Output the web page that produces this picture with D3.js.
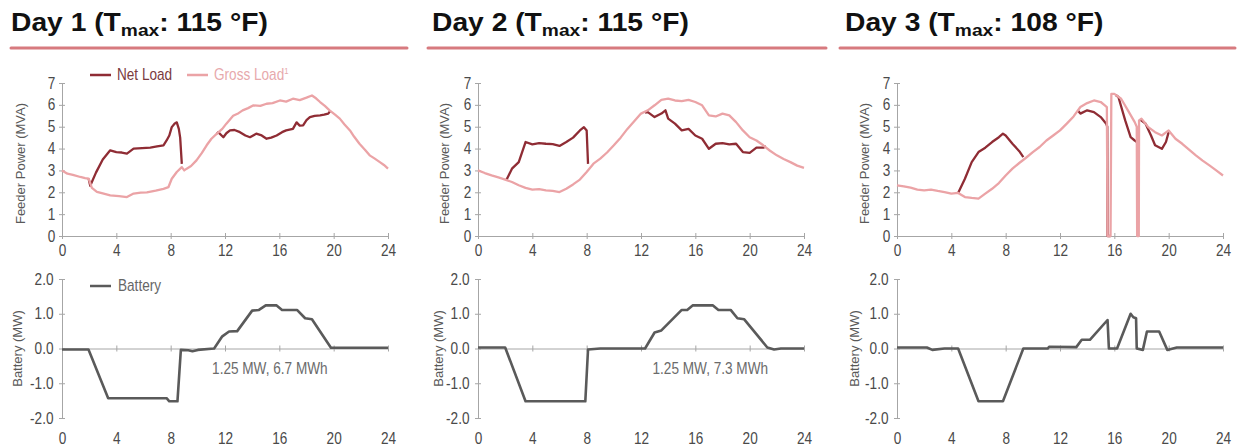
<!DOCTYPE html>
<html>
<head>
<meta charset="utf-8">
<script src="https://cdn.jsdelivr.net/npm/d3@7"></script>
<style>
  html, body { margin: 0; padding: 0; background: #fff; }
  svg { display: block; }
  text { font-family: 'Liberation Sans', Arial, sans-serif; }
</style>
</head>
<body>
<svg id="chart" width="1238" height="448"></svg>
<script>
// ---------------- DATA ----------------
const dayTitles = ["Day 1", "Day 2", "Day 3"];
const tmaxValues = ["115 °F", "115 °F", "108 °F"];
const xTicks = [0, 4, 8, 12, 16, 20, 24];
const powerTicks = [0, 1, 2, 3, 4, 5, 6, 7];
const batteryTicks = [-2, -1, 0, 1, 2];
const batteryNotes = ["1.25 MW, 6.7 MWh", "1.25 MW, 7.3 MWh", ""];
const noteHours = [15.3, 17.1, null];

// [hour, MVA]
const day1Gross = [[0,3.0],[0.4,2.85],[0.8,2.8],[1.35,2.7],[1.7,2.65],[1.96,2.62],[2.2,2.2],[2.57,2.02],[3.0,1.95],[3.55,1.86],[4.2,1.82],[4.78,1.78],[5.27,1.94],[5.8,1.98],[6.25,2.0],[6.9,2.08],[7.47,2.16],[7.84,2.24],[8.08,2.62],[8.45,2.93],[8.82,3.15],[9.0,3.0],[9.18,3.08],[9.5,3.2],[9.9,3.46],[10.3,3.8],[10.65,4.15],[11.0,4.45],[11.4,4.68],[11.8,4.9],[12.1,5.14],[12.6,5.5],[13.0,5.62],[13.3,5.75],[13.7,5.85],[14.1,5.98],[14.6,5.95],[15.06,6.05],[15.5,6.08],[16.04,6.2],[16.5,6.15],[17.0,6.28],[17.5,6.22],[18.0,6.33],[18.4,6.43],[18.7,6.3],[19.0,6.13],[19.35,5.95],[19.7,5.75],[20.1,5.55],[20.45,5.37],[20.8,5.1],[21.2,4.83],[21.5,4.55],[21.9,4.22],[22.3,3.95],[22.65,3.69],[23.0,3.55],[23.4,3.38],[23.7,3.25],[24,3.08]];
const day1Net = [[1.96,2.62],[2.08,2.3],[2.5,2.9],[3.0,3.5],[3.55,3.92],[4.0,3.84],[4.4,3.82],[4.78,3.77],[5.27,4.0],[5.9,4.02],[6.5,4.04],[7.0,4.1],[7.47,4.15],[7.7,4.37],[7.9,4.6],[8.08,4.98],[8.3,5.15],[8.45,5.2],[8.6,4.9],[8.7,4.5],[8.82,3.3],null,[11.4,4.68],[11.5,4.75],[11.88,4.52],[12.1,4.7],[12.37,4.83],[12.7,4.85],[13.1,4.75],[13.5,4.6],[13.84,4.52],[14.3,4.68],[14.7,4.6],[15.06,4.45],[15.4,4.5],[15.8,4.6],[16.2,4.75],[16.5,4.83],[17.0,4.9],[17.27,5.2],[17.5,5.05],[17.75,5.06],[18.0,5.3],[18.25,5.44],[18.6,5.5],[19.0,5.52],[19.3,5.55],[19.6,5.6],[19.75,5.72]];
// [hour, MW]
const day1Battery = [[0,-0.03],[1.95,-0.03],[3.4,-1.43],[7.7,-1.43],[7.9,-1.52],[8.5,-1.52],[8.75,-0.04],[9.3,-0.05],[9.6,-0.08],[10.0,-0.04],[11.2,0],[11.8,0.35],[12.3,0.49],[12.9,0.5],[14.0,1.09],[14.5,1.11],[15.0,1.24],[15.8,1.24],[16.2,1.11],[17.3,1.11],[17.9,0.87],[18.4,0.84],[19.8,0.02],[24,0.02]];

const day2Gross = [[0,3.0],[0.5,2.88],[1,2.77],[1.5,2.68],[2,2.58],[2.5,2.47],[3,2.32],[3.5,2.2],[4,2.12],[4.5,2.14],[5,2.09],[5.5,2.06],[6,2.01],[6.5,2.16],[7,2.36],[7.5,2.58],[8,2.93],[8.5,3.31],[9,3.54],[9.5,3.82],[10,4.15],[10.5,4.5],[11,4.9],[11.5,5.25],[12,5.6],[12.5,5.75],[13,5.98],[13.5,6.23],[14,6.28],[14.5,6.2],[15,6.17],[15.5,6.23],[16,6.13],[16.5,5.98],[17,5.52],[17.5,5.47],[18,5.6],[18.5,5.52],[19,5.21],[19.5,4.83],[20,4.52],[20.5,4.37],[21,4.15],[21.5,3.9],[22,3.69],[22.5,3.52],[23,3.38],[23.5,3.22],[24,3.12]];
const day2Net = [[2.1,2.58],[2.2,2.7],[2.5,3.08],[3.0,3.38],[3.5,4.3],[4.0,4.19],[4.5,4.25],[5,4.22],[5.5,4.2],[6,4.12],[6.5,4.3],[7,4.5],[7.5,4.83],[7.8,4.98],[8.0,4.83],[8.1,3.3],null,[12.3,5.65],[12.5,5.67],[13,5.44],[13.5,5.6],[13.8,5.75],[14,5.37],[14.5,5.14],[15,4.83],[15.5,4.9],[16,4.6],[16.5,4.45],[17,3.99],[17.5,4.22],[18,4.25],[18.5,4.19],[19,4.22],[19.5,3.84],[20,3.8],[20.5,4.04],[21,4.04],[21.2,4.1]];
const day2Battery = [[0,0.03],[2.0,0.03],[3.5,-1.52],[7.9,-1.52],[8.1,-0.03],[9,0],[12.3,0],[13.0,0.46],[13.5,0.52],[15.0,1.11],[15.4,1.11],[15.8,1.24],[17.3,1.24],[17.7,1.11],[18.6,1.11],[19.1,0.87],[19.6,0.84],[21.3,0.03],[21.8,-0.03],[22.3,0],[24,0]];

const day3Gross = [[0,2.32],[0.5,2.27],[1,2.21],[1.5,2.12],[2,2.09],[2.5,2.12],[3,2.06],[3.5,2.01],[4,1.94],[4.5,1.97],[5,1.78],[5.5,1.74],[6,1.71],[6.5,1.94],[7,2.16],[7.5,2.42],[8,2.77],[8.5,3.08],[9,3.34],[9.5,3.58],[10,3.84],[10.5,4.07],[11,4.37],[11.5,4.6],[12,4.83],[12.5,5.14],[13,5.47],[13.5,5.9],[14,6.08],[14.5,6.2],[15,6.13],[15.3,5.98],[15.45,5.9],[15.5,0],[15.72,0],[15.78,6.5],[16,6.5],[16.5,6.28],[17,5.75],[17.5,5.21],[17.65,5.0],[17.68,0],[17.8,0],[17.82,5.29],[18,5.37],[18.5,4.98],[19,4.75],[19.5,4.6],[20,4.83],[20.5,4.45],[21,4.22],[21.5,3.95],[22,3.69],[22.5,3.45],[23,3.23],[23.5,3.0],[24,2.77]];
const day3Net = [[4.5,1.97],[5,2.62],[5.5,3.38],[6,3.84],[6.5,4.04],[7,4.3],[7.5,4.52],[7.8,4.68],[8,4.6],[8.5,4.22],[9,3.88],[9.3,3.61],null,[13.3,5.75],[13.5,5.6],[14,5.75],[14.5,5.67],[15,5.44],[15.4,5.14],[15.48,5.0],[15.5,0],[15.72,0],null,[16.1,6.45],[16.3,6.36],[16.8,5.29],[17.2,4.52],[17.5,4.37],[17.62,4.3],null,[17.9,5.33],[18.3,5.14],[18.7,4.6],[19,4.15],[19.5,3.99],[19.8,4.3],[20,4.75]];
const day3Battery = [[0,0.03],[2.2,0.03],[2.6,-0.04],[3.5,0],[4.5,0],[6.0,-1.52],[7.8,-1.52],[9.3,0],[11.1,0],[11.2,0.05],[13.2,0.04],[13.6,0.25],[14.2,0.25],[15.5,0.82],[15.6,0],[16.2,0],[17.2,1.0],[17.4,0.9],[17.6,0.87],[17.65,0],[18.1,-0.04],[18.4,0.49],[19.3,0.49],[19.9,-0.04],[20.6,0.03],[24,0.03]];

// ---------------- LAYOUT ----------------
const grossSeries = [day1Gross, day2Gross, day3Gross];
const netSeries = [day1Net, day2Net, day3Net];
const batterySeries = [day1Battery, day2Battery, day3Battery];

const panelLeft = [62, 478, 897];
const panelWidth = 326;
const titleX = [11, 432, 845];
const ruleX = [[11, 407], [428, 826], [840, 1235]];
const topLabelX = [20, 444, 864];
const botLabelX = [17, 438, 854];
const NARROW = 0.85;

const C = {
  net: "#8f2c34",
  gross: "#eba3a6",
  battery: "#5a5a5a",
  axis: "#a6a6a6",
  tick: "#4a4a4a",
  label: "#595959",
  rule: "#d77a7f"
};

const svg = d3.select("#chart");

function styleAxis(g) {
  g.select(".domain").attr("stroke", C.axis).attr("stroke-width", 1);
  g.selectAll(".tick line").attr("stroke", C.axis);
  g.selectAll(".tick text").attr("fill", C.tick)
    .style("font-family", "'Liberation Sans', Arial, sans-serif")
    .style("font-size", "16px")
    .attr("transform", `scale(${NARROW},1)`);
}

function narrowText(x, y, str, size, fill, anchor) {
  return svg.append("text")
    .attr("transform", `translate(${x},${y}) scale(${NARROW},1)`)
    .attr("text-anchor", anchor || "start")
    .style("font-size", size + "px").attr("fill", fill).text(str);
}

for (let i = 0; i < 3; i++) {
  const L = panelLeft[i];
  const x = d3.scaleLinear().domain([0, 24]).range([L, L + panelWidth]);
  const yTop = d3.scaleLinear().domain([0, 7]).range([236, 83]);
  const yBot = d3.scaleLinear().domain([-2, 2]).range([418, 279]);

  // title
  const t = svg.append("text")
    .attr("transform", `translate(${titleX[i]},31) scale(1.13,1)`)
    .attr("font-weight", "bold").attr("font-size", 25).attr("fill", "#111");
  t.append("tspan").text(dayTitles[i] + " (T");
  t.append("tspan").attr("font-size", 17).attr("dy", 5).text("max");
  t.append("tspan").attr("dy", -5).text(": " + tmaxValues[i] + ")");

  svg.append("line")
    .attr("x1", ruleX[i][0]).attr("x2", ruleX[i][1])
    .attr("y1", 48).attr("y2", 48)
    .attr("stroke", C.rule).attr("stroke-width", 3).attr("stroke-linecap", "round");

  // ---- top chart axes
  const gx = svg.append("g").attr("transform", `translate(0,${yTop(0)})`)
    .call(d3.axisBottom(x).tickValues(xTicks).tickSize(3).tickSizeOuter(0).tickPadding(6));
  styleAxis(gx);
  gx.selectAll(".tick line").attr("y1", -3);

  const gy = svg.append("g").attr("transform", `translate(${L},0)`)
    .call(d3.axisLeft(yTop).tickValues(powerTicks).tickSize(3).tickSizeOuter(0).tickPadding(5).tickFormat(d3.format("d")));
  styleAxis(gy);
  gy.selectAll(".tick line").attr("x1", 3);

  svg.append("text")
    .attr("transform", `translate(${topLabelX[i]},${(yTop(0) + yTop(7)) / 2 + 4}) rotate(-90)`)
    .attr("text-anchor", "middle").attr("dy", "0.35em")
    .attr("font-size", 13)
    .attr("fill", C.label).text("Feeder Power (MVA)");

  // ---- lines
  const line = d3.line().defined(d => d != null).x(d => x(d[0])).y(d => yTop(d[1]));
  svg.append("path").datum(netSeries[i]).attr("d", line)
    .attr("fill", "none").attr("stroke", C.net).attr("stroke-width", 2.3).attr("stroke-linejoin", "round");
  svg.append("path").datum(grossSeries[i]).attr("d", line)
    .attr("fill", "none").attr("stroke", C.gross).attr("stroke-width", 2.3).attr("stroke-linejoin", "round");

  // ---- bottom chart axes
  const g0 = svg.append("g").attr("transform", `translate(0,${yBot(0)})`)
    .call(d3.axisBottom(x).tickValues(xTicks).tickSize(3).tickSizeOuter(0).tickFormat(""));
  styleAxis(g0);
  g0.selectAll(".tick line").attr("y1", -3);

  const gl = svg.append("g").attr("transform", `translate(0,${yBot(-2)})`)
    .call(d3.axisBottom(x).tickValues(xTicks).tickSize(0).tickPadding(15));
  styleAxis(gl);
  gl.select(".domain").remove();

  const gyb = svg.append("g").attr("transform", `translate(${L},0)`)
    .call(d3.axisLeft(yBot).tickValues(batteryTicks).tickSize(3).tickSizeOuter(0).tickPadding(7).tickFormat(d => d.toFixed(1)));
  styleAxis(gyb);
  gyb.selectAll(".tick line").attr("x1", 3);

  svg.append("text")
    .attr("transform", `translate(${botLabelX[i]},${yBot(0)}) rotate(-90)`)
    .attr("text-anchor", "middle").attr("dy", "0.35em")
    .attr("font-size", 13)
    .attr("fill", C.label).text("Battery (MW)");

  const bline = d3.line().x(d => x(d[0])).y(d => yBot(d[1]));
  svg.append("path").datum(batterySeries[i]).attr("d", bline)
    .attr("fill", "none").attr("stroke", C.battery).attr("stroke-width", 2.6).attr("stroke-linejoin", "round");

  if (batteryNotes[i]) {
    narrowText(x(noteHours[i]), yBot(-0.72), batteryNotes[i], 16, "#6b6b6b", "middle");
  }
}

// ---- legends (panel 1)
const legendItems = [
  { label: "Net Load", sup: "", color: C.net, text: "#7a3a3e", x: 90, y: 75 },
  { label: "Gross Load", sup: "1", color: C.gross, text: "#e7a9ac", x: 187, y: 75 }
];
legendItems.forEach(d => {
  svg.append("line").attr("x1", d.x).attr("x2", d.x + 21).attr("y1", d.y).attr("y2", d.y)
    .attr("stroke", d.color).attr("stroke-width", 2.5);
  const tt = narrowText(d.x + 27, d.y + 5, d.label, 16, d.text);
  if (d.sup) tt.append("tspan").attr("dy", -6).style("font-size", "9px").text(d.sup);
});
svg.append("line").attr("x1", 90).attr("x2", 111).attr("y1", 286).attr("y2", 286)
  .attr("stroke", C.battery).attr("stroke-width", 2.5);
narrowText(118, 291, "Battery", 16, "#666");
</script>
</body>
</html>
